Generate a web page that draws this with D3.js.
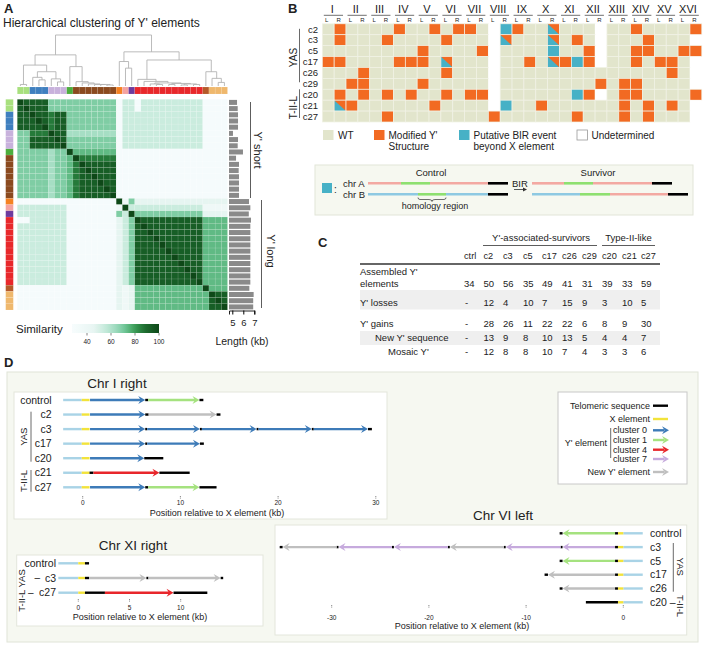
<!DOCTYPE html>
<html><head><meta charset="utf-8">
<script src="https://cdn.jsdelivr.net/npm/d3@7"></script>
<style>body{margin:0;background:#fff} svg{display:block} text{font-family:"Liberation Sans",Arial,sans-serif;fill:#222}</style>
</head><body><svg id="chart" width="705" height="647"></svg>
<script>
// ================= DATA =================
// Panel A
const groupColors = ["#a8e07e","#3f7fbf","#c8b2dc","#4cae3d","#8b4a1f","#f58222","#f4a3a0","#6e3b9e","#e8282b","#b55a2a","#efb86d"];
const elementGroup = [0,0,1,1,1,2,2,2,3,4,4,4,4,4,4,4,5,6,7,8,8,8,8,8,8,8,8,8,8,8,9,10,10,10];
const simLevels = [30,38,46,54,62,69,74,86,93,100];
const simRows = [
"98|888|555|5|5555555|0|3|3|03333333333|0|000",
"89|888|555|5|5555555|0|3|3|03333333333|0|000",
"88|988|788|5|5555555|0|3|3|33333333333|0|000",
"88|898|788|5|5555555|0|3|3|33333333333|0|000",
"88|889|788|5|5555555|0|3|3|33333333333|0|000",
"55|777|988|4|4444444|0|3|3|33333333333|0|000",
"55|888|898|5|5555555|0|3|3|33333333333|0|000",
"55|888|889|5|5555555|0|3|3|33333333333|0|000",
"55|555|455|9|6666666|0|0|0|00000000000|0|000",
"55|555|455|6|9777777|0|0|0|00000000000|0|000",
"55|555|455|6|7988888|0|0|0|00000000000|0|000",
"55|555|455|6|7898888|0|0|0|00000000000|0|000",
"55|555|455|6|7889888|0|0|0|00000000000|0|000",
"55|555|455|6|7888988|0|0|0|00000000000|0|000",
"55|555|455|6|7888898|0|0|0|00000000000|0|000",
"55|555|455|6|7888889|0|0|0|00000000000|0|000",
"00|000|000|0|0000000|9|1|5|22222222222|2|222",
"33|333|333|0|0000000|1|9|3|33333333333|1|111",
"33|333|333|0|0000000|5|3|9|55555555555|2|222",
"00|333|333|0|0000000|2|3|5|98888888888|6|666",
"33|333|333|0|0000000|2|3|5|89888888888|6|666",
"33|333|333|0|0000000|2|3|5|88988888888|6|666",
"33|333|333|0|0000000|2|3|5|88898888888|6|666",
"33|333|333|0|0000000|2|3|5|88889888888|6|666",
"33|333|333|0|0000000|2|3|5|88888988888|6|666",
"33|333|333|0|0000000|2|3|5|88888898888|6|666",
"33|333|333|0|0000000|2|3|5|88888889888|6|666",
"33|333|333|0|0000000|2|3|5|88888888988|6|666",
"33|333|333|0|0000000|2|3|5|88888888898|6|666",
"33|333|333|0|0000000|2|3|5|88888888889|6|666",
"00|000|000|0|0000000|2|1|2|66666666666|9|666",
"00|000|000|0|0000000|2|1|2|66666666666|6|988",
"00|000|000|0|0000000|2|1|2|66666666666|6|898",
"00|000|000|0|0000000|2|1|2|66666666666|6|889"
];
const lengthsKb = [5.43,5.49,5.52,5.52,5.52,5.06,5.52,5.49,5.97,5.34,5.61,5.58,5.61,5.61,5.61,5.61,6.52,6.64,6.5,6.7,6.64,6.64,6.64,6.64,6.64,6.64,6.64,6.64,6.64,6.64,6.55,6.94,6.9,6.9];
const lengthTicks = [5,6,7];
const simTicks = [40,60,80,100];
// dendrogram: [height, left, right]; leaves are element indices
const dendroTree = [1.0,
  [0.61,
    [0.41, [0.03,0,1], [0.28, [0.17,2,[0.12,3,4]], [0.14,5,[0.08,6,7]]]],
    [0.38, 8, [0.085,9,[0.06,10,[0.04,11,[0.03,12,[0.03,13,[0.02,14,15]]]]]]]
  ],
  [0.67,
    [0.48, 16, [0.35,17,18]],
    [0.51,
      [0.13, 19, [0.09, 20, [0.06, [0.04,21,[0.03,22,23]], [0.05,[0.03,24,25],[0.04,[0.02,26,27],[0.03,28,29]]]]]],
      [0.28, 30, [0.15, 31, [0.07,32,33]]]
    ]
  ]
];

// Panel B
const chromosomes = ["I","II","III","IV","V","VI","VII","VIII","IX","X","XI","XII","XIII","XIV","XV","XVI"];
const arms = ["L","R"];
const clones = ["c2","c3","c5","c17","c26","c29","c20","c21","c27"];
// w = WT, o = modified Y', t = putative BIR, s = both, u = undetermined
const statusRows = [
"wowwwwow|wowoowut|owwswwwu|wwowwwwo",
"wowwwoww|wwowwwus|wwwswowu|wwwowwwu",
"wwwwwwww|owwwwouw|wwwtwwou|wwoowwoo",
"oowwwwoo|owswwwuw|wowsotou|wwowoowu",
"wwwowwww|wwowwwuw|wwwwwwww|wwwwwowu",
"wwoowwww|owwwwwuw|wwwwwwwo|woowwwwu",
"wowowowo|wwowoouw|wwwwwtou|woowwwwo",
"wsowwwww|wowwwwut|wwowwwww|wowowowu",
"wwwwwoww|wwwwwwow|wwwwwoww|wowowwwu"
];
const cloneGroupsB = [["YAS","c2","c29"],["T-II-L","c20","c27"]];
const legendB = [["w","WT"],["o","Modified Y'|Structure"],["t","Putative BIR event|beyond X element"],["u","Undetermined"]];

// Panel C
const tableCols = ["ctrl","c2","c3","c5","c17","c26","c29","c20","c21","c27"];
const assembled = [34,50,56,35,49,41,31,39,33,59];
const losses = ["-",12,4,10,7,15,9,3,10,5];
const gains = ["-",28,26,11,22,22,6,8,9,30];
const newSeq = ["-",13,9,8,10,13,5,4,4,7];
const mosaic = ["-",12,8,8,10,7,4,3,3,6];

// Panel D  (segments: [type, start kb, end kb])
const chrIRows = ["control","c2","c3","c17","c20","c21","c27"];
const chrISegs = [
 [["sub",-2,-0.1],["X",-0.1,0.7],["c0",0.75,6.4],["tel",6.4,6.7],["c1",6.7,11.95],["tel",11.95,12.35]],
 [["sub",-2,-0.1],["X",-0.1,0.7],["c0",0.75,6.4],["tel",6.4,6.75],["new",6.75,13.7],["tel",13.7,14.1]],
 [["sub",-2,-0.1],["X",-0.1,0.7],["c0",0.75,6.4],["tel",6.4,6.6],["c0",6.6,12.0],["tel",12.0,12.2],["c0",12.2,17.8],["tel",17.8,18.0],["c0",18.0,23.45],["tel",23.45,23.65],["c0",23.65,29.2],["tel",29.2,29.6]],
 [["sub",-2,-0.1],["X",-0.1,0.7],["c0",0.75,6.4],["tel",6.4,6.6],["c0",6.6,12.0],["tel",12.0,12.4]],
 [["sub",-2,-0.1],["X",-0.1,0.7],["c0",0.75,6.3],["tel",6.3,8.25]],
 [["sub",-2,-0.1],["X",-0.1,0.7],["tel",0.7,1.1],["c4",1.1,7.85],["tel",7.85,10.95]],
 [["sub",-2,-0.1],["X",-0.1,0.7],["c0",0.75,6.4],["tel",6.4,6.7],["c1",6.7,11.95],["tel",11.95,13.7]]
];
const chrITicks = [0,10,20,30];
const chrXIRows = ["control","c3","c27"];
const chrXISegs = [
 [["sub",-1.95,0],["X",0,0.65],["tel",0.65,1.05]],
 [["sub",-1.95,0],["X",0,0.65],["tel",0.65,1.05],["new",1.05,6.65],["tel",6.65,6.85],["new",6.85,13.9],["tel",13.9,14.15]],
 [["sub",-1.95,0],["X",0,0.65],["tel",0.65,2.6],["c4",2.6,9.3],["tel",9.3,12.6]]
];
const chrXITicks = [0,5,10];
const chrVIRows = ["control","c3","c5","c17","c26","c20"];
const chrVISegs = [
 [["sub",0,2.0],["X",-0.55,0],["tel",-0.85,-0.55],["c1",-6.25,-0.85],["tel",-6.55,-6.25]],
 [["sub",0,2.0],["X",-0.55,0],["tel",-0.85,-0.55],["c7",-6.25,-0.85],["tel",-6.45,-6.25],["c7",-12.1,-6.45],["tel",-12.3,-12.1],["new",-17.85,-12.3],["tel",-18.05,-17.85],["c7",-23.6,-18.05],["tel",-23.8,-23.6],["c7",-29.3,-23.8],["tel",-29.5,-29.3],["new",-35.05,-29.5],["tel",-35.35,-35.05]],
 [["sub",0,2.0],["X",-0.55,0],["tel",-0.85,-0.55],["c1",-6.25,-0.85],["tel",-6.55,-6.25]],
 [["sub",0,2.0],["X",-0.55,0],["tel",-0.85,-0.55],["new",-7.75,-0.85],["tel",-8.1,-7.75]],
 [["sub",0,2.0],["X",-0.55,0],["tel",-0.85,-0.55],["new",-6.25,-0.85],["tel",-6.55,-6.25]],
 [["sub",0,2.0],["X",-0.55,0],["tel",-3.85,-0.55]]
];
const chrVITicks = [-30,-20,-10,0];
const legendD = [["tel","Telomeric sequence"],["X","X element"],["c0","cluster 0"],["c1","cluster 1"],["c4","cluster 4"],["c7","cluster 7"],["new","New Y' element"]];

// ================= DRAW =================
const svg = d3.select("#chart");
function T(g,x,y,s,size,anchor,extra){const t=g.append("text").attr("x",x).attr("y",y).attr("font-size",size).attr("text-anchor",anchor||"start").text(s);if(extra)extra(t);return t;}
function RT(g,x,y,s,size,angle){return g.append("text").attr("transform",`translate(${x},${y}) rotate(${angle})`).attr("font-size",size).attr("text-anchor","middle").attr("dominant-baseline","central").text(s);}
const bold = t=>t.attr("font-weight","bold");

// ----- Panel A -----
const gA = svg.append("g");
T(gA,4,13,"A",13,"start",bold);
T(gA,3,27,"Hierarchical clustering of Y' elements",12);
const N = elementGroup.length;
const hmX = d3.scaleBand().domain(d3.range(N)).range([17.3,227.5]);
const hmY = d3.scaleBand().domain(d3.range(N)).range([99.3,310]);
const color = d3.scaleLinear().domain([27.5,45,55,65,72,80,88,100])
  .range(["#f7fcfd","#e9f6f3","#c7ebdc","#98d8ba","#6cc493","#3a9c56","#1e6e30","#0e4818"]);
const matrix = simRows.map(r=>r.replace(/\|/g,"").split("").map(d=>simLevels[+d]));
matrix.forEach((row,i)=>row.forEach((v,j)=>{
  gA.append("rect").attr("x",hmX(j)).attr("y",hmY(i)).attr("width",hmX.bandwidth()).attr("height",hmY.bandwidth())
    .attr("fill",color(v)).attr("stroke","#fff").attr("stroke-opacity",0.22).attr("stroke-width",0.4);
}));
// group color bars
elementGroup.forEach((g,i)=>{
  gA.append("rect").attr("x",hmX(i)).attr("y",87).attr("width",hmX.bandwidth()).attr("height",7).attr("fill",groupColors[g]).attr("stroke","#fff").attr("stroke-opacity",0.25).attr("stroke-width",0.4);
  gA.append("rect").attr("x",5.7).attr("y",hmY(i)).attr("width",7.6).attr("height",hmY.bandwidth()).attr("fill",groupColors[g]).attr("stroke","#fff").attr("stroke-opacity",0.25).attr("stroke-width",0.4);
});
// dendrogram
const dY = d3.scaleLinear().domain([0,1]).range([86,35]);
function drawNode(n){
  if(typeof n==="number") return {x:hmX(n)+hmX.bandwidth()/2,h:0};
  const [h,a,b]=n; const A=drawNode(a),B=drawNode(b);
  gA.append("path").attr("d",`M${A.x},${dY(A.h)}V${dY(h)}H${B.x}V${dY(B.h)}`).attr("fill","none").attr("stroke","#b3b3b3").attr("stroke-width",0.9);
  return {x:(A.x+B.x)/2,h};
}
drawNode(dendroTree);
// length bars
const xL = d3.scaleLinear().domain([4.7,7]).range([229,254.3]);
lengthsKb.forEach((v,i)=>{
  gA.append("rect").attr("x",xL(4.7)).attr("y",hmY(i)+0.6).attr("width",xL(v)-xL(4.7)).attr("height",hmY.bandwidth()-1.2).attr("fill","#8a8a8a");
});
const axL = gA.append("g").attr("transform","translate(0,310.5)").call(d3.axisBottom(xL).tickValues(lengthTicks).tickSize(4).tickFormat(d3.format("d")));
axL.select(".domain").attr("stroke","#222");
axL.selectAll("text").attr("font-size",9.5).attr("dy","0.9em").style("font-family","Liberation Sans, Arial");
T(gA,242,345,"Length (kb)",10.5,"middle");
// Y' short / long
gA.append("line").attr("x1",250.5).attr("x2",250.5).attr("y1",102).attr("y2",198).attr("stroke","#333").attr("stroke-width",0.8);
RT(gA,257.5,150,"Y' short",11,90);
gA.append("line").attr("x1",261.5).attr("x2",261.5).attr("y1",200).attr("y2",308).attr("stroke","#333").attr("stroke-width",0.8);
RT(gA,270.5,251,"Y' long",11,90);
// colorbar
const defs = svg.append("defs");
const grad = defs.append("linearGradient").attr("id","simgrad");
d3.range(0,1.001,0.05).forEach(t=>grad.append("stop").attr("offset",t).attr("stop-color",color(27.5+t*72.5)));
const cbX = d3.scaleLinear().domain([27.5,100]).range([72,159]);
gA.append("rect").attr("x",72).attr("y",324).attr("width",87).attr("height",9).attr("fill","url(#simgrad)");
T(gA,16,333,"Similarity",11.5);
simTicks.forEach(v=>{
  gA.append("line").attr("x1",cbX(v)).attr("x2",cbX(v)).attr("y1",333).attr("y2",335.5).attr("stroke","#333").attr("stroke-width",0.6);
  T(gA,cbX(v),344,String(v),6.5,"middle");
});

// ----- Panel B -----
const gB = svg.append("g");
T(gB,288,13,"B",13,"start",bold);
const bx = d3.scaleBand().domain(d3.range(32)).range([322.3,701.8]);
const by = d3.scaleBand().domain(clones).range([23.8,122]);
const fillB = {w:"#e2e5cc",o:"#f26a22",t:"#47b1c6",u:"#ffffff"};
chromosomes.forEach((c,k)=>{
  const x0=bx(2*k), x1=bx(2*k+1)+bx.bandwidth();
  T(gB,(x0+x1)/2-2,13,c,11,"middle");
  gB.append("line").attr("x1",x0+1.5).attr("x2",x1-3).attr("y1",15.3).attr("y2",15.3).attr("stroke","#333").attr("stroke-width",0.7);
  arms.forEach((a,m)=>T(gB,bx(2*k+m)+bx.bandwidth()/2-1.5,21.5,a,6,"middle"));
});
statusRows.forEach((r,i)=>{
  const s=r.replace(/\|/g,"").split(""); const y0=by(clones[i]), h=by.bandwidth();
  s.forEach((c,j)=>{
    const x0=bx(j), w=bx.bandwidth();
    if(c==="s"){
      gB.append("rect").attr("x",x0).attr("y",y0).attr("width",w).attr("height",h).attr("fill",fillB.o);
      gB.append("path").attr("d",`M${x0},${y0}L${x0},${y0+h}L${x0+w},${y0+h}Z`).attr("fill",fillB.t);
      gB.append("rect").attr("x",x0).attr("y",y0).attr("width",w).attr("height",h).attr("fill","none").attr("stroke","#f1f2e6").attr("stroke-width",0.7);
    } else {
      gB.append("rect").attr("x",x0).attr("y",y0).attr("width",w).attr("height",h).attr("fill",fillB[c]).attr("stroke",c==="u"?"none":"#f1f2e6").attr("stroke-width",0.7);
    }
  });
  T(gB,318,y0+h/2+3.3,clones[i],9.5,"end");
});
cloneGroupsB.forEach(([name,a,b])=>{
  const y1=by(a)+(name==="YAS"?5:0), y2=by(b)+by.bandwidth()-(name==="YAS"?7:4);
  gB.append("line").attr("x1",299.5).attr("x2",299.5).attr("y1",y1).attr("y2",y2).attr("stroke","#444").attr("stroke-width",0.8);
  RT(gB,293,(by(a)+by(b)+by.bandwidth())/2+ (name==="YAS"?1:2),name,10,-90);
});
const legXs=[323,374,459,577];
legendB.forEach(([c,lab],k)=>{
  gB.append("rect").attr("x",legXs[k]).attr("y",130).attr("width",10.5).attr("height",10).attr("fill",fillB[c]).attr("stroke",c==="u"?"#999":"none").attr("stroke-width",0.8);
  lab.split("|").forEach((l,m)=>T(gB,legXs[k]+(k===0?15:14.5),139+m*11,l,10));
});
// BIR schematic
gB.append("rect").attr("x",315).attr("y",165).attr("width",378).attr("height",50).attr("fill","#f6f8f0").attr("stroke","#e2e5d8");
gB.append("rect").attr("x",322).attr("y",183).attr("width",10).attr("height",10).attr("fill",fillB.t);
T(gB,334,193,":",10);
T(gB,343,186.5,"chr A",9.5); T(gB,343,197.5,"chr B",9.5);
T(gB,431,176,"Control",9.5,"middle"); T(gB,598,176,"Survivor",9.5,"middle");
const birSegs=[[368,401,183.3,"#f3a9a2"],[401,430,183.3,"#8ee070"],[430,488,183.3,"#f3a9a2"],[488,508,183.3,"#000"],
  [368,418,194.3,"#8ec9e2"],[418,446,194.3,"#8ee070"],[446,488,194.3,"#8ec9e2"],[488,508,194.3,"#000"],
  [532,564,183.3,"#f3a9a2"],[564,593,183.3,"#8ee070"],[593,652,183.3,"#f3a9a2"],[652,672,183.3,"#000"],
  [532,580,194.3,"#8ec9e2"],[580,610,194.3,"#8ee070"],[610,668,194.3,"#f3a9a2"],[668,688,194.3,"#000"]];
birSegs.forEach(([a,b,y,c])=>gB.append("line").attr("x1",a).attr("x2",b).attr("y1",y).attr("y2",y).attr("stroke",c).attr("stroke-width",2.6));
gB.append("path").attr("d","M418,197.5q0,2 2,2h9q3,0 3,2q0,-2 3,-2h9q2,0 2,-2").attr("fill","none").attr("stroke","#333").attr("stroke-width",0.7);
T(gB,435,209,"homology region",9,"middle");
T(gB,512,186.5,"BIR",9.5);
gB.append("line").attr("x1",514).attr("x2",524).attr("y1",189.5).attr("y2",189.5).attr("stroke","#333").attr("stroke-width",0.8);
gB.append("path").attr("d","M527,189.5l-4,-2v4z").attr("fill","#333");

// ----- Panel C -----
const gC = svg.append("g");
T(gC,318,247,"C",13,"start",bold);
const colX=[464,483.5,503,523,542,562,582,602,622,641];
T(gC,541,241,"Y'-associated-survivors",9.5,"middle");
gC.append("line").attr("x1",483).attr("x2",597).attr("y1",245.5).attr("y2",245.5).attr("stroke","#333").attr("stroke-width",0.8);
T(gC,628.5,241,"Type-II-like",9.5,"middle");
gC.append("line").attr("x1",602).attr("x2",655).attr("y1",245.5).attr("y2",245.5).attr("stroke","#333").attr("stroke-width",0.8);
gC.append("rect").attr("x",360).attr("y",290).attr("width",300).attr("height",19.5).attr("fill","#efefef");
gC.append("rect").attr("x",360).attr("y",331).attr("width",300).attr("height",14).attr("fill","#efefef");
tableCols.forEach((c,i)=>T(gC,colX[i],258.5,c,9.2));
gC.append("line").attr("x1",360).attr("x2",660).attr("y1",264).attr("y2",264).attr("stroke","#333").attr("stroke-width",1.3);
T(gC,360,274.5,"Assembled Y'",9.5); T(gC,360,286.5,"elements",9.5);
T(gC,360,306,"Y' losses",9.5);
T(gC,360,326.5,"Y' gains",9.5);
T(gC,375,341,"New Y' sequence",9.5);
T(gC,388,354.5,"Mosaic Y'",9.5);
[[assembled,286.5],[losses,306],[gains,326.5],[newSeq,341],[mosaic,354.5]].forEach(([arr,y])=>
  arr.forEach((v,i)=>T(gC,colX[i]+(v==="-"?1:0),y,String(v),9.5)));

// ----- Panel D -----
const gD = svg.append("g");
T(gD,4,367,"D",13,"start",bold);
gD.append("rect").attr("x",7).attr("y",372).attr("width",691).attr("height",270).attr("fill","#f6f8f1").attr("stroke","#e0e4d7");
const segColor={sub:"#a9d3e6",X:"#f2e33a",tel:"#000",c0:"#3d7bb8",c1:"#a5e27f",c4:"#e8262b",c7:"#c6aadd",new:"#bfbfbf"};
const isArrow=t=>["c0","c1","c4","c7","new"].includes(t);
function drawTrack(g,x,y,segs,dir){
  segs.forEach(([t,a,b])=>{
    const x1=x(a),x2=x(b),col=segColor[t];
    if(isArrow(t)){
      if(dir>0){
        g.append("line").attr("x1",x1).attr("x2",x2-4).attr("y1",y).attr("y2",y).attr("stroke",col).attr("stroke-width",2.4);
        g.append("path").attr("d",`M${x2},${y}L${x2-7},${y-4}L${x2-4.5},${y}L${x2-7},${y+4}Z`).attr("fill",col);
      } else {
        g.append("line").attr("x1",x1+4).attr("x2",x2).attr("y1",y).attr("y2",y).attr("stroke",col).attr("stroke-width",2.4);
        g.append("path").attr("d",`M${x1},${y}L${x1+7},${y-4}L${x1+4.5},${y}L${x1+7},${y+4}Z`).attr("fill",col);
      }
    } else {
      g.append("line").attr("x1",x1).attr("x2",x2).attr("y1",y).attr("y2",y).attr("stroke",col).attr("stroke-width",2.4);
    }
  });
}
function axisD(g,x,ticks,yT,yL,label,labelX,labelY){
  ticks.forEach(v=>{
    g.append("line").attr("x1",x(v)).attr("x2",x(v)).attr("y1",yT-3).attr("y2",yT).attr("stroke","#555").attr("stroke-width",0.7).attr("stroke-dasharray","1,0.6");
    T(g,x(v),yL,String(v),6.5,"middle");
  });
  T(g,labelX,labelY,label,9,"middle");
}
// Chr I right
gD.append("rect").attr("x",14).attr("y",392).attr("width",373).attr("height",127).attr("fill","#fff").attr("stroke","#e3e6dc");
T(gD,117,388,"Chr I right",13.5,"middle");
const xI = d3.scaleLinear().domain([0,30]).range([82.7,375.8]);
const yI = d3.scalePoint().domain(chrIRows).range([400,487.3]);
chrIRows.forEach((r,i)=>{drawTrack(gD,xI,yI(r),chrISegs[i],1); T(gD,51.7,yI(r)+3.6,r,10.5,"end");});
gD.append("line").attr("x1",31).attr("x2",31).attr("y1",411.7).attr("y2",461.7).attr("stroke","#444").attr("stroke-width",0.8);
RT(gD,23.5,436.7,"YAS",9.5,-90);
gD.append("line").attr("x1",31).attr("x2",31).attr("y1",470).attr("y2",491.7).attr("stroke","#444").attr("stroke-width",0.8);
RT(gD,23.5,481,"T-II-L",9.5,-90);
axisD(gD,xI,chrITicks,499,505,"Position relative to X element (kb)",217,515.5);
// Legend D
gD.append("rect").attr("x",558).attr("y",392).attr("width",129).attr("height",92).attr("fill","#fff").attr("stroke","#c8c8c8");
const legY=[405.7,419,430.3,440,449.7,459,472];
const legTY=[408.5,421.8,433,443,452.5,462,475];
legendD.forEach(([t,lab],k)=>{
  const y=legY[k];
  if(isArrow(t)){
    gD.append("line").attr("x1",653).attr("x2",664).attr("y1",y).attr("y2",y).attr("stroke",segColor[t]).attr("stroke-width",2.4);
    gD.append("path").attr("d",`M${669},${y}L${662},${y-4}L${664.5},${y}L${662},${y+4}Z`).attr("fill",segColor[t]);
  } else gD.append("line").attr("x1",653).attr("x2",668).attr("y1",y).attr("y2",y).attr("stroke",segColor[t]).attr("stroke-width",2.4);
  if(/^c\d$/.test(t)) T(gD,613,legTY[k],lab,9); else T(gD,650,legTY[k],lab,9,"end");
});
T(gD,607,446,"Y' element",9,"end");
gD.append("line").attr("x1",610.7).attr("x2",610.7).attr("y1",428).attr("y2",458).attr("stroke","#444").attr("stroke-width",0.8);
// Chr XI right
gD.append("rect").attr("x",16.7).attr("y",555).attr("width",246.3).attr("height",71).attr("fill","#fff").attr("stroke","#e3e6dc");
T(gD,133,550,"Chr XI right",13.5,"middle");
const xXI = d3.scaleLinear().domain([0,10]).range([78.3,180.7]);
const yXI = d3.scalePoint().domain(chrXIRows).range([563.3,592.7]);
chrXIRows.forEach((r,i)=>{drawTrack(gD,xXI,yXI(r),chrXISegs[i],1); T(gD,56,yXI(r)+3.6,r,10.5,"end");});
T(gD,34.5,yXI("c3")+3.3,"–",10,"start"); T(gD,28,yXI("c27")+3.3,"–",10,"start");
RT(gD,21.7,590.5,"T-II-L YAS",9.5,-90);
axisD(gD,xXI,chrXITicks,602,610,"Position relative to X element (kb)",140,619.5);
// Chr VI left
gD.append("rect").attr("x",275).attr("y",525).attr("width",411.7).attr("height",110).attr("fill","#fff").attr("stroke","#e3e6dc");
T(gD,503,520,"Chr VI left",13.5,"middle");
const xVI = d3.scaleLinear().domain([-30,0]).range([331.7,623.3]);
const yVI = d3.scalePoint().domain(chrVIRows).range([533.3,602.3]);
chrVIRows.forEach((r,i)=>{drawTrack(gD,xVI,yVI(r),chrVISegs[i],-1); T(gD,650,yVI(r)+3.6,r+(r==="c20"?" –":""),10.5,"start");});
gD.append("line").attr("x1",673.3).attr("x2",673.3).attr("y1",543).attr("y2",591.7).attr("stroke","#444").attr("stroke-width",0.8);
RT(gD,680.5,566.7,"YAS",9.5,90);
RT(gD,680.5,606,"T-II-L",9.5,90);
axisD(gD,xVI,chrVITicks,608,619.5,"Position relative to X element (kb)",462,628.5);
</script></body></html>
